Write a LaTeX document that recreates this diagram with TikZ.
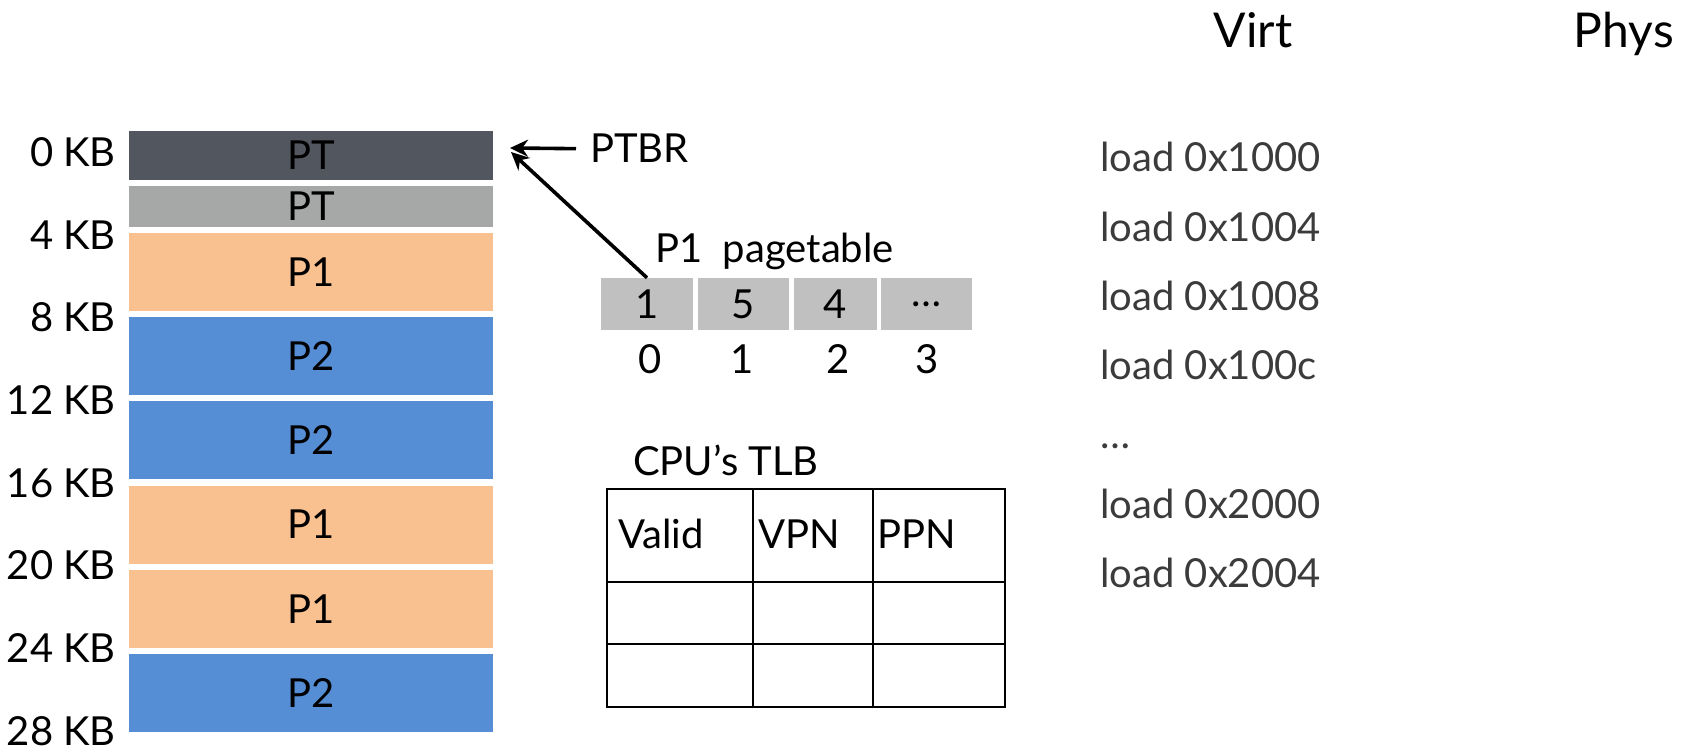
\documentclass[tikz,border=0pt]{standalone}
\usepackage{fontspec}
\setmainfont{Lato}
\usepackage{xcolor}
\usetikzlibrary{arrows.meta,positioning,calc}
\definecolor{ptdark}{HTML}{52565E}
\definecolor{ptlight}{HTML}{A5A8A7}
\definecolor{pone}{HTML}{F9C190}
\definecolor{ptwo}{HTML}{558ED5}
\definecolor{pgcell}{HTML}{C0C0C0}
\definecolor{loadtxt}{HTML}{3B3B3B}
\tikzset{mem/.style={rectangle,inner sep=0pt,minimum width=364pt,minimum height=78pt,font=\fontsize{40}{48}\selectfont}}
\tikzset{kb/.style={anchor=east,inner sep=0pt,font=\fontsize{40}{48}\selectfont}}

\begin{document}
\begin{tikzpicture}[x=1pt, y=-1pt,
    ptr/.style={-{Stealth[length=18pt,width=17pt]}, line width=3.6pt},
    txt/.style={inner sep=0pt, anchor=base west, font=\fontsize{40}{48}\selectfont},
    hd/.style={inner sep=0pt, font=\fontsize{48}{56}\selectfont},
    pte/.style={fill=pgcell, inner sep=0pt, minimum height=52pt, font=\fontsize{40}{48}\selectfont},
    tlb/.style={draw=black, line width=1.5pt, inner sep=0pt}]
        \useasboundingbox (0,0) rectangle (1681,751);
        % physical memory
        \node[mem, fill=ptdark, minimum height=49pt] (pt0) at (311,155.5) {PT};
        \node[mem, fill=ptlight, minimum height=41pt] (pt1) at (311,206.5) {PT};
        \node[mem, fill=pone] (m1) at (311,272) {P1};
        \node[mem, fill=ptwo] (m2) at (311,356.2) {P2};
        \node[mem, fill=ptwo] (m3) at (311,440.4) {P2};
        \node[mem, fill=pone] (m4) at (311,524.6) {P1};
        \node[mem, fill=pone] (m5) at (311,608.8) {P1};
        \node[mem, fill=ptwo] (m6) at (311,693) {P2};
        \foreach \k [count=\i from 0] in {0,4,...,28}
            \node[kb] (kb\k) at (116,152+82.7*\i) {\k\ KB};
        % page table of P1
        \node[txt] (pgtitle) at (655,263) {P1\ \ pagetable};
        \node[pte, minimum width=92pt] (pte0) at (647,304) {1};
        \node[pte, minimum width=91pt] (pte1) at (743.5,304) {5};
        \node[pte, minimum width=83pt] (pte2) at (835.5,304) {4};
        \node[pte, minimum width=91pt] (pte3) at (926.5,304) {…};
        \node[txt, anchor=base] (ix0) at (650,373) {0};
        \node[txt, anchor=base] (ix1) at (742,373) {1};
        \node[txt, anchor=base] (ix2) at (838,373) {2};
        \node[txt, anchor=base] (ix3) at (927,373) {3};
        % PTBR
        \node[txt, inner xsep=14pt] (ptbr) at (576,163) {PTBR};
        \coordinate (tipA) at (510,148);
        \coordinate (tipB) at (511,152);
        \draw[ptr] (ptbr.west) -- (tipA);
        \draw[ptr] (pte0.north) -- (tipB);
        % TLB
        \node[txt] (tlbtitle) at (633,475) {CPU’s TLB};
        \foreach \c/\cx/\cw in {v/680/146, n/813/120, p/939/132} {
            \node[tlb, minimum width=\cw pt, minimum height=93pt] (tlb\c0) at (\cx,535.5) {};
            \node[tlb, minimum width=\cw pt, minimum height=62pt] (tlb\c1) at (\cx,613) {};
            \node[tlb, minimum width=\cw pt, minimum height=63pt] (tlb\c2) at (\cx,675.5) {};
        }
        \node[txt] (hvalid) at (618,548) {Valid};
        \node[txt] (hvpn) at (758,548) {VPN};
        \node[txt] (hppn) at (877,548) {PPN};
        % address trace
        \node[hd, anchor=base] (virt) at (1253,48) {Virt};
        \node[hd, anchor=base east] (phys) at (1674,48) {Phys};
        \foreach \a [count=\i from 0] in {load 0x1000, load 0x1004, load 0x1008, load 0x100c, …, load 0x2000, load 0x2004}
            \node[txt, text=loadtxt] (ld\i) at (1100,172+69.2*\i) {\a};
\end{tikzpicture}
\end{document}
